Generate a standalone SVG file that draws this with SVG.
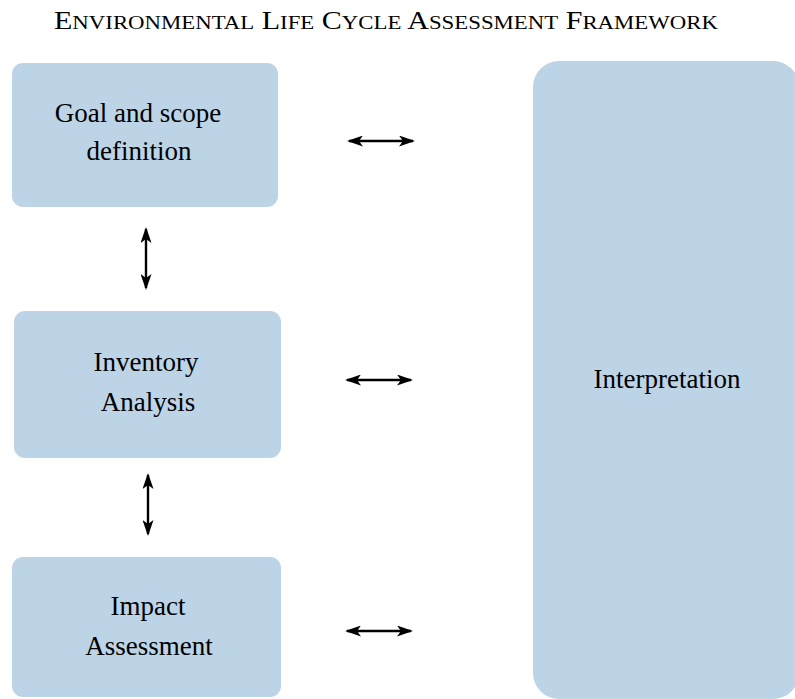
<svg xmlns="http://www.w3.org/2000/svg" width="795" height="699" viewBox="0 0 795 699">
<style>
.box{fill:#BDD4E7;}
.t{font-family:"Liberation Serif","Times New Roman",serif;font-size:27px;fill:#000;text-anchor:middle;}
.title{font-family:"Liberation Serif","Times New Roman",serif;font-size:25px;fill:#000;}
.sc{font-size:19px;}
.c{stroke:#000;stroke-width:2.4;fill:none;marker-start:url(#a);marker-end:url(#a);}
</style>
<defs>
<marker id="a" viewBox="0 0 16 11" refX="14" refY="5.5" markerWidth="16" markerHeight="11" markerUnits="userSpaceOnUse" orient="auto-start-reverse">
<path d="M0,0 L16,5.5 L0,11 L4,5.5 Z" fill="#000"/>
</marker>
</defs>
<text class="title" x="54" y="29" textLength="664" lengthAdjust="spacingAndGlyphs">E<tspan class="sc">NVIRONMENTAL</tspan> L<tspan class="sc">IFE</tspan> C<tspan class="sc">YCLE</tspan> A<tspan class="sc">SSESSMENT</tspan> F<tspan class="sc">RAMEWORK</tspan></text>
<g id="goal">
<rect class="box" x="12" y="63" width="266" height="144" rx="11"/>
<text class="t" x="138" y="122">Goal and scope</text>
<text class="t" x="139" y="160">definition</text>
</g>
<g id="inventory">
<rect class="box" x="14" y="311" width="267" height="147" rx="11"/>
<text class="t" x="146" y="371">Inventory</text>
<text class="t" x="148" y="411">Analysis</text>
</g>
<g id="impact">
<rect class="box" x="12" y="557" width="269" height="140" rx="11"/>
<text class="t" x="148" y="615">Impact</text>
<text class="t" x="149" y="655">Assessment</text>
</g>
<g id="interpretation">
<rect class="box" x="533" y="61" width="266" height="638" rx="26"/>
<text class="t" x="667" y="388">Interpretation</text>
</g>
<g id="connectors">
<line class="c" x1="349" y1="141" x2="413" y2="141"/>
<line class="c" x1="347" y1="380" x2="411" y2="380"/>
<line class="c" x1="347" y1="631" x2="411" y2="631"/>
<line class="c" x1="146" y1="229" x2="146" y2="288"/>
<line class="c" x1="148" y1="475" x2="148" y2="534"/>
</g>
</svg>
